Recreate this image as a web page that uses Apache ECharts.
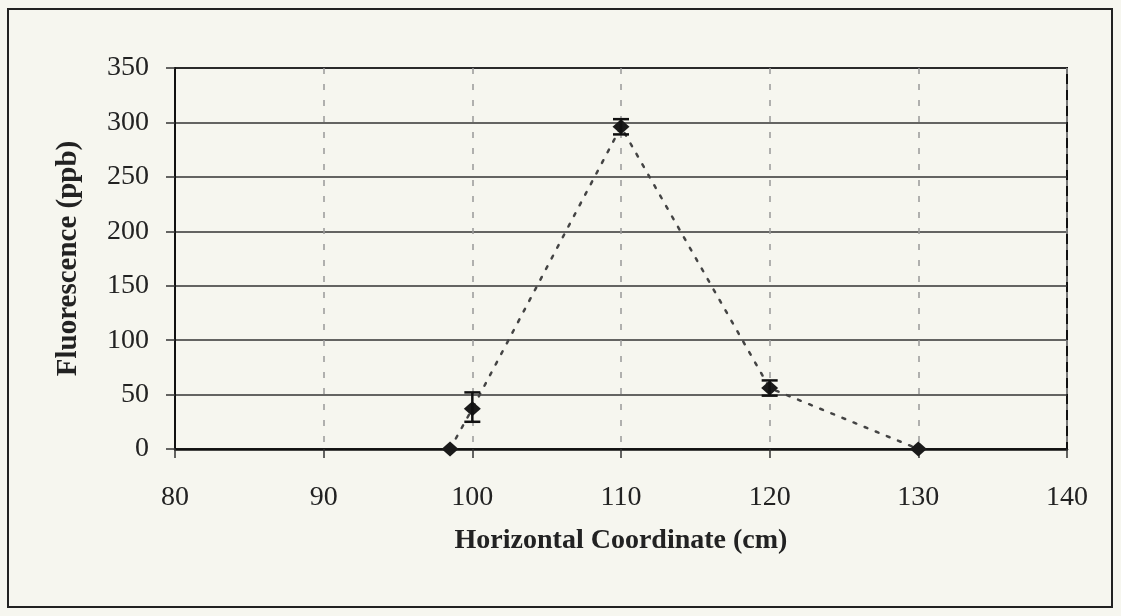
<!DOCTYPE html>
<html>
<head>
<meta charset="utf-8">
<script src="https://cdn.jsdelivr.net/npm/echarts@6/dist/echarts.min.js"></script>
<style>
html,body{margin:0;padding:0;background:#f6f6ef;}
#c{width:1121px;height:616px;}
</style>
</head>
<body>
<div id="c"></div>
<script>
// Data
const xValues = [98.5, 100, 110, 120, 130];
const yValues = [0, 37, 296, 56, 0];
const errLow  = [null, 25, 289, 49, null];
const errHigh = [null, 52, 303, 63, null];
const xTicks = [80, 90, 100, 110, 120, 130, 140];
const yTicks = [0, 50, 100, 150, 200, 250, 300, 350];
const xTitle = 'Horizontal Coordinate (cm)';
const yTitle = 'Fluorescence (ppb)';

const FONT = '"Liberation Serif", "DejaVu Serif", serif';
const pts = xValues.map((x, i) => [x, yValues[i]]);
const errData = [];
xValues.forEach((x, i) => {
  if (errLow[i] != null) errData.push([x, errLow[i], errHigh[i]]);
});

const chart = echarts.init(document.getElementById('c'));
chart.setOption({
  backgroundColor: '#f6f6ef',
  animation: false,
  graphic: [{
    type: 'rect',
    shape: {x: 8, y: 9, width: 1104, height: 598},
    style: {fill: 'none', stroke: '#222', lineWidth: 2},
    silent: true, z: -1
  }],
  grid: {
    left: 175, right: 54, top: 68, bottom: 167,
    show: true, borderColor: '#111', borderWidth: 2, backgroundColor: 'transparent'
  },
  xAxis: {
    type: 'value', min: xTicks[0], max: xTicks[xTicks.length - 1], interval: 10,
    name: xTitle, nameLocation: 'middle', nameGap: 78,
    nameTextStyle: {fontFamily: FONT, fontSize: 28, fontWeight: 'bold', color: '#222'},
    axisLine: {show: true, lineStyle: {color: '#111', width: 2.5}},
    axisTick: {show: true, inside: false, length: 9, lineStyle: {color: '#333', width: 1.5}},
    axisLabel: {fontFamily: FONT, fontSize: 28, color: '#222', margin: 35},
    splitLine: {show: true, lineStyle: {color: '#999', width: 1.5, type: [6, 10]}}
  },
  yAxis: {
    type: 'value', min: yTicks[0], max: yTicks[yTicks.length - 1], interval: 50,
    name: yTitle, nameLocation: 'middle', nameGap: 92,
    nameTextStyle: {fontFamily: FONT, fontSize: 29, fontWeight: 'bold', color: '#222'},
    axisLine: {show: true, lineStyle: {color: '#111', width: 2}},
    axisTick: {show: true, inside: false, length: 9, lineStyle: {color: '#333', width: 1.5}},
    axisLabel: {fontFamily: FONT, fontSize: 28, color: '#222', margin: 26},
    splitLine: {show: true, lineStyle: {color: '#333', width: 1.5}}
  },
  series: [{
    type: 'line',
    data: pts,
    symbol: 'diamond',
    symbolSize: [17, 15],
    itemStyle: {color: '#1a1a1a'},
    lineStyle: {color: '#444', width: 2.5, type: [3, 9], cap: 'round'},
    z: 3
  }, {
    type: 'custom',
    data: errData,
    z: 4,
    renderItem: function (params, api) {
      const x = api.value(0);
      const lo = api.coord([x, api.value(1)]);
      const hi = api.coord([x, api.value(2)]);
      const hw = 8;
      const st = {stroke: '#111', lineWidth: 2.5};
      return {
        type: 'group',
        children: [
          {type: 'line', shape: {x1: lo[0], y1: lo[1], x2: hi[0], y2: hi[1]}, style: st},
          {type: 'line', shape: {x1: lo[0] - hw, y1: lo[1], x2: lo[0] + hw, y2: lo[1]}, style: st},
          {type: 'line', shape: {x1: hi[0] - hw, y1: hi[1], x2: hi[0] + hw, y2: hi[1]}, style: st}
        ]
      };
    }
  }]
});
</script>
</body>
</html>
